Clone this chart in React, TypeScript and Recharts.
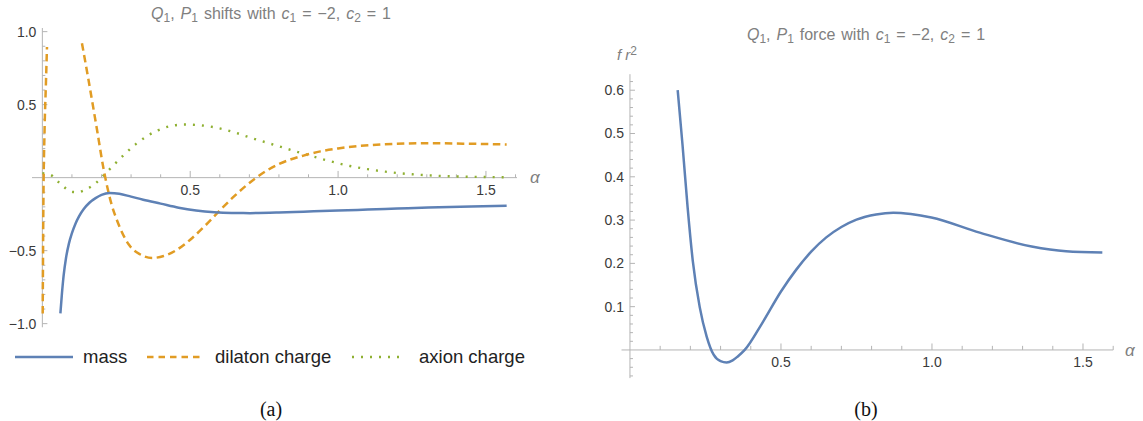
import React from "react";
import { LineChart, Line, XAxis, YAxis, ReferenceLine } from "recharts";

// left panel: shifts of Q1, P1
const massAlpha = [0.061, 0.066, 0.072, 0.08, 0.09, 0.1, 0.112, 0.124, 0.14, 0.16, 0.18, 0.2, 0.227, 0.26, 0.3, 0.341, 0.4, 0.461, 0.52, 0.582, 0.64, 0.702, 0.8, 0.883, 1.0, 1.1, 1.2, 1.305, 1.45, 1.57];
const massValue = [-0.93, -0.8, -0.67, -0.55, -0.45, -0.38, -0.315, -0.265, -0.215, -0.17, -0.14, -0.118, -0.105, -0.11, -0.13, -0.151, -0.178, -0.206, -0.225, -0.237, -0.242, -0.243, -0.239, -0.233, -0.225, -0.219, -0.212, -0.205, -0.197, -0.192];

const dilatonAlpha = [0.0012, 0.0036, 0.0072, 0.012, 0.0157, 0.07, 0.134, 0.156, 0.185, 0.207, 0.235, 0.252, 0.293, 0.33, 0.371, 0.41, 0.45, 0.5, 0.55, 0.6, 0.65, 0.72, 0.76, 0.8, 0.883, 0.94, 1.0, 1.09, 1.184, 1.305, 1.45, 1.57];
const dilatonValue = [-0.93, -0.16, 0.3, 0.64, 0.895, null, 0.92, 0.67, 0.326, 0.06, -0.19, -0.29, -0.46, -0.525, -0.55, -0.537, -0.5, -0.425, -0.33, -0.225, -0.125, -0.005, 0.05, 0.093, 0.151, 0.18, 0.2, 0.22, 0.231, 0.236, 0.232, 0.227];

const axionAlpha = [0.0, 0.027, 0.06, 0.1, 0.12, 0.14, 0.179, 0.207, 0.245, 0.317, 0.389, 0.48, 0.582, 0.65, 0.702, 0.8, 0.889, 0.96, 1.04, 1.1, 1.16, 1.25, 1.37, 1.47, 1.57];
const axionValue = [0.03, 0.02, -0.04, -0.097, -0.1, -0.088, -0.04, 0.015, 0.094, 0.231, 0.323, 0.364, 0.345, 0.31, 0.275, 0.215, 0.16, 0.12, 0.08, 0.058, 0.041, 0.023, 0.01, 0.005, 0.003];

// right panel: force f r^2
const forceAlpha = [0.158, 0.174, 0.191, 0.208, 0.231, 0.254, 0.277, 0.3, 0.32, 0.34, 0.357, 0.38, 0.437, 0.5, 0.55, 0.6, 0.65, 0.7, 0.75, 0.815, 0.872, 0.93, 0.998, 1.158, 1.33, 1.444, 1.564];
const forceValue = [0.6, 0.474, 0.329, 0.206, 0.099, 0.031, -0.011, -0.026, -0.029, -0.024, -0.015, 0.0, 0.061, 0.135, 0.185, 0.227, 0.26, 0.284, 0.301, 0.313, 0.317, 0.314, 0.306, 0.271, 0.239, 0.228, 0.225];

const leftXTicks = [0.1, 0.2, 0.3, 0.4, 0.5, 0.6, 0.7, 0.8, 0.9, 1.0, 1.1, 1.2, 1.3, 1.4, 1.5, 1.6];
const leftXLabels = [0.5, 1.0, 1.5];
const leftYTicks = [-1.0, -0.9, -0.8, -0.7, -0.6, -0.5, -0.4, -0.3, -0.2, -0.1, 0.1, 0.2, 0.3, 0.4, 0.5, 0.6, 0.7, 0.8, 0.9, 1.0];
const leftYLabels = [-1.0, -0.5, 0.5, 1.0];

const rightXTicks = [0.1, 0.2, 0.3, 0.4, 0.5, 0.6, 0.7, 0.8, 0.9, 1.0, 1.1, 1.2, 1.3, 1.4, 1.5, 1.6];
const rightXLabels = [0.5, 1.0, 1.5];
const rightYTicks = [-0.06, -0.04, -0.02, 0.02, 0.04, 0.06, 0.08, 0.1, 0.12, 0.14, 0.16, 0.18, 0.2, 0.22, 0.24, 0.26, 0.28, 0.3, 0.32, 0.34, 0.36, 0.38, 0.4, 0.42, 0.44, 0.46, 0.48, 0.5, 0.52, 0.54, 0.56, 0.58, 0.6, 0.62];
const rightYLabels = [0.1, 0.2, 0.3, 0.4, 0.5, 0.6];

const zip = (xs: number[], ys: (number | null)[]) => xs.map((a, i) => ({ a, v: ys[i] }));

const AXIS = "#b4b4b4";
const TICK_TEXT = "#3a3a3a";
const TITLE = "#808080";
const BLUE = "#5e81b5";
const ORANGE = "#e19c24";
const GREEN = "#8fb032";
const FONT = "'Liberation Sans', Arial, sans-serif";

const fmt = (t: number) => (t < 0 ? "\u2212" : "") + Math.abs(t).toFixed(1);

function xTicks(ticks: number[], labels: number[], major: number, minor: number) {
  return ticks.map((t) => {
    const isMajor = labels.includes(t);
    return (
      <ReferenceLine
        key={"x" + t}
        segment={[{ x: t, y: 0 }, { x: t, y: isMajor ? major : minor }]}
        stroke={AXIS}
        strokeWidth={1}
        label={isMajor ? { value: fmt(t), position: "bottom", offset: 7, fill: TICK_TEXT, fontSize: 14, fontFamily: FONT } : undefined}
      />
    );
  });
}

function yTicks(ticks: number[], labels: number[], major: number, minor: number) {
  return ticks.map((t) => {
    const isMajor = labels.includes(t);
    return (
      <ReferenceLine
        key={"y" + t}
        segment={[{ x: 0, y: t }, { x: isMajor ? major : minor, y: t }]}
        stroke={AXIS}
        strokeWidth={1}
        label={isMajor ? { value: fmt(t), position: "left", offset: 6, fill: TICK_TEXT, fontSize: 14, fontFamily: FONT } : undefined}
      />
    );
  });
}

const Sub = ({ children }: { children: React.ReactNode }) => (
  <sub style={{ fontSize: "0.75em", verticalAlign: "-0.25em", lineHeight: 0 }}>{children}</sub>
);

function Title({ what }: { what: string }) {
  return (
    <span>
      <i>Q</i><Sub>1</Sub>, <i>P</i><Sub>1</Sub> {what} with <i>c</i><Sub>1</Sub> = {"\u2212"}2, <i>c</i><Sub>2</Sub> = 1
    </span>
  );
}

function LegendItem({ left, color, dash, width, label, labelLeft }: any) {
  return (
    <>
      <svg style={{ position: "absolute", left, top: 352 }} width={width} height={10}>
        <line x1={0} y1={5} x2={width} y2={5} stroke={color} strokeWidth={dash === "2 7" ? 2.4 : 2.5} strokeDasharray={dash} />
      </svg>
      <div style={{ position: "absolute", left: labelLeft, top: 346, fontSize: 18.5, lineHeight: "22px", color: "#222", whiteSpace: "nowrap" }}>
        {label}
      </div>
    </>
  );
}

const titleStyle: React.CSSProperties = { position: "absolute", textAlign: "center", fontSize: 16, lineHeight: "18px", color: TITLE, whiteSpace: "nowrap", wordSpacing: 1.5 };

export default function App() {
  return (
    <div style={{ position: "absolute", left: 0, top: 0, width: 1143, height: 421, background: "#fff", fontFamily: FONT, overflow: "hidden" }}>
      <div style={{ position: "absolute", left: 0, top: 0 }}>
        <LineChart width={560} height={340} margin={{ top: 28, left: 32, right: 43, bottom: 12.7 }}>
          <XAxis type="number" dataKey="a" domain={[-0.035, 1.605]} allowDataOverflow hide />
          <YAxis type="number" domain={[-1.025, 1.025]} allowDataOverflow hide />
          <ReferenceLine y={0} stroke={AXIS} strokeWidth={1} />
          <ReferenceLine x={0} stroke={AXIS} strokeWidth={1} />
          {xTicks(leftXTicks, leftXLabels, 0.046, 0.023)}
          {yTicks(leftYTicks, leftYLabels, 0.017, 0.01)}
          <Line data={zip(axionAlpha, axionValue)} dataKey="v" type="monotone" stroke={GREEN} strokeWidth={2.4} strokeDasharray="2 7" dot={false} isAnimationActive={false} />
          <Line data={zip(dilatonAlpha, dilatonValue)} dataKey="v" type="monotone" stroke={ORANGE} strokeWidth={2.5} strokeDasharray="7.5 4.5" dot={false} isAnimationActive={false} connectNulls={false} />
          <Line data={zip(massAlpha, massValue)} dataKey="v" type="monotone" stroke={BLUE} strokeWidth={2.5} dot={false} isAnimationActive={false} />
        </LineChart>
      </div>
      <div style={{ position: "absolute", left: 560, top: 0 }}>
        <LineChart width={583} height={400} margin={{ top: 74.2, left: 61.5, right: 29.8, bottom: 21.9 }}>
          <XAxis type="number" dataKey="a" domain={[-0.028, 1.6]} allowDataOverflow hide />
          <YAxis type="number" domain={[-0.065, 0.637]} allowDataOverflow hide />
          <ReferenceLine y={0} stroke={AXIS} strokeWidth={1} />
          <ReferenceLine x={0} stroke={AXIS} strokeWidth={1} />
          {xTicks(rightXTicks, rightXLabels, 0.015, 0.0095)}
          {yTicks(rightYTicks, rightYLabels, 0.0166, 0.01)}
          <Line data={zip(forceAlpha, forceValue)} dataKey="v" type="monotone" stroke={BLUE} strokeWidth={2.5} dot={false} isAnimationActive={false} />
        </LineChart>
      </div>

      <div style={{ ...titleStyle, left: 0, width: 542, top: 5 }}>
        <Title what="shifts" />
      </div>
      <div style={{ ...titleStyle, left: 566, width: 600, top: 26 }}>
        <Title what="force" />
      </div>

      <div style={{ position: "absolute", left: 530, top: 168, fontSize: 17, lineHeight: "20px", fontStyle: "italic", color: TITLE }}>α</div>
      <div style={{ position: "absolute", left: 1125, top: 341, fontSize: 17, lineHeight: "20px", fontStyle: "italic", color: TITLE }}>α</div>
      <div style={{ position: "absolute", left: 617, top: 46, fontSize: 15, lineHeight: "18px", fontStyle: "italic", color: TITLE, whiteSpace: "nowrap" }}>
        f r<sup style={{ fontStyle: "normal", fontSize: "0.8em", verticalAlign: "0.45em", lineHeight: 0 }}>2</sup>
      </div>

      <LegendItem left={15} width={58} color={BLUE} dash={undefined} label="mass" labelLeft={83} />
      <LegendItem left={147} width={53} color={ORANGE} dash="6.5 5" label="dilaton charge" labelLeft={215} />
      <LegendItem left={352} width={53} color={GREEN} dash="2 7" label="axion charge" labelLeft={419} />

      <div style={{ position: "absolute", left: 171, width: 200, top: 397, textAlign: "center", fontSize: 20, lineHeight: "24px", fontFamily: "'Liberation Serif', serif", color: "#111" }}>(a)</div>
      <div style={{ position: "absolute", left: 766, width: 200, top: 397, textAlign: "center", fontSize: 20, lineHeight: "24px", fontFamily: "'Liberation Serif', serif", color: "#111" }}>(b)</div>
    </div>
  );
}
